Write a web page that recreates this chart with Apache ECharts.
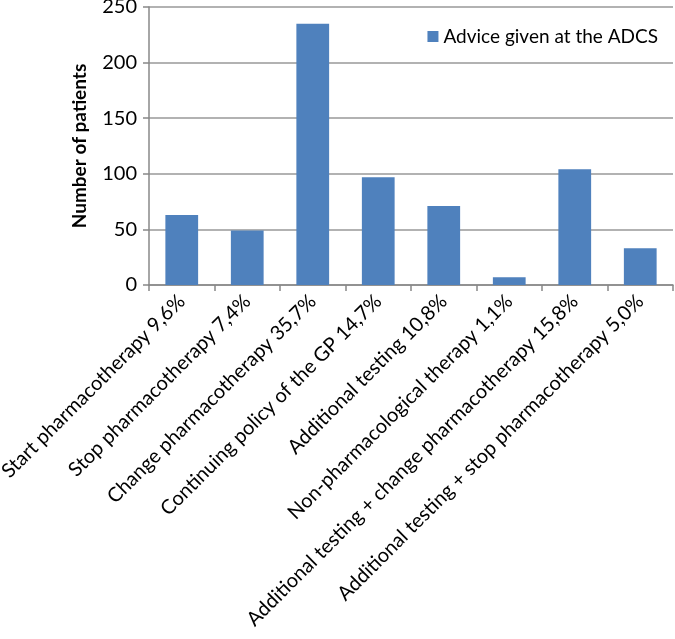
<!DOCTYPE html>
<html><head><meta charset="utf-8">
<script src="https://cdn.jsdelivr.net/npm/echarts@6/dist/echarts.min.js"></script>
<style>html,body{margin:0;padding:0;background:#fff}#c{width:675px;height:639px}</style>
</head><body><div id="c"></div>
<script>
const categories = [
  "Start pharmacotherapy 9,6%",
  "Stop pharmacotherapy 7,4%",
  "Change pharmacotherapy 35,7%",
  "Continuing policy of the GP 14,7%",
  "Additional testing 10,8%",
  "Non-pharmacological therapy 1,1%",
  "Additional testing + change pharmacotherapy 15,8%",
  "Additional testing + stop pharmacotherapy 5,0%"
];
const values = [63, 49, 235, 97, 71, 7, 104, 33];
const seriesName = "Advice given at the ADCS";
const yTicks = [0, 50, 100, 150, 200, 250];

const font = "Lato, 'Open Sans', sans-serif";
const chart = echarts.init(document.getElementById('c'));
chart.setOption({
  animation: false,
  textStyle: {fontFamily: font},
  grid: {left: 149, right: 2, top: 7, bottom: 354, containLabel: false, outerBoundsMode: 'none'},
  legend: {
    data: [seriesName], right: 12, top: 22, itemWidth: 11, itemHeight: 11, itemGap: 8,
    icon: 'rect',
    textStyle: {fontSize: 19, color: '#000', fontFamily: font}
  },
  xAxis: {
    type: 'category', data: categories,
    axisLine: {lineStyle: {color: '#888', width: 1.5}},
    axisTick: {show: true, length: 6, lineStyle: {color: '#888', width: 1.5}},
    axisLabel: {rotate: 45, interval: 0, fontSize: 20, color: '#000', margin: 13, fontFamily: font}
  },
  yAxis: {
    type: 'value', min: yTicks[0], max: yTicks[yTicks.length - 1], interval: 50,
    name: 'Number of patients', nameLocation: 'middle', nameGap: 60,
    nameTextStyle: {fontSize: 19, fontWeight: 'bold', color: '#000', fontFamily: font},
    axisLine: {show: true, lineStyle: {color: '#888', width: 1.5}},
    axisTick: {show: true, length: 6, lineStyle: {color: '#888', width: 1.5}},
    axisLabel: {fontSize: 20, color: '#000', margin: 12, fontFamily: font},
    splitLine: {lineStyle: {color: '#999', width: 1.5}}
  },
  series: [{
    name: seriesName, type: 'bar', data: values, barWidth: '50%',
    itemStyle: {color: '#4f81bd'}
  }]
});
</script></body></html>
